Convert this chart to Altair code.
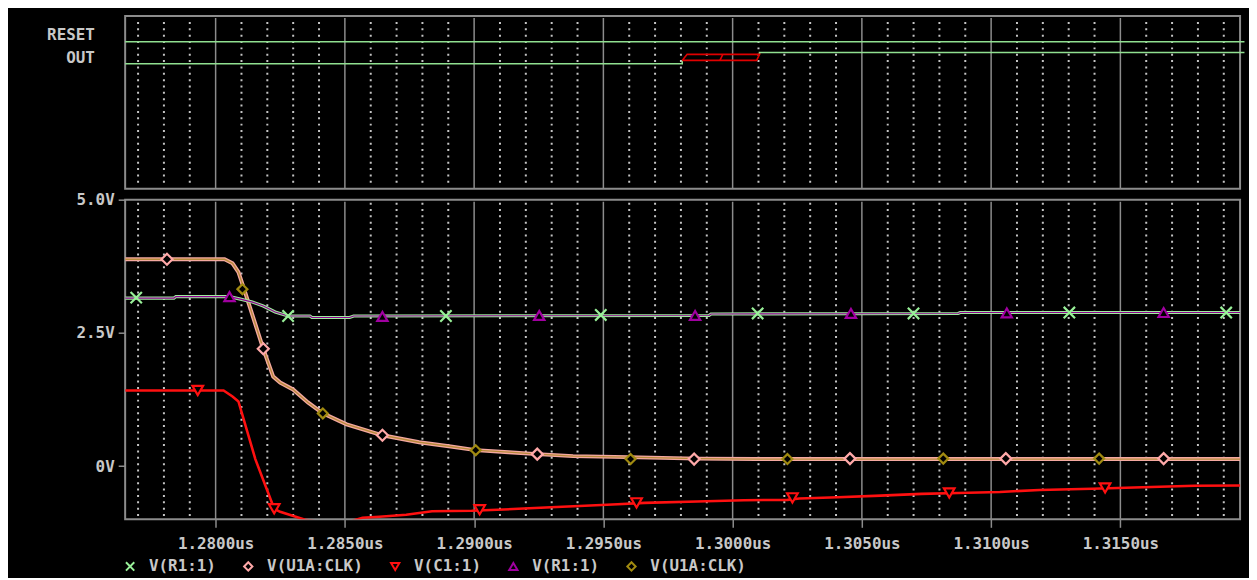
import altair as alt
import pandas as pd

FONT = "DejaVu Sans Mono"
TXT = "#c8c8c8"
GRID = "#c4c4c4"
FRAME = "#8c8c8c"

# ---------------- axis / tick values ----------------
X_DOMAIN = [1.2765, 1.31963]
major_ticks = [1.280, 1.285, 1.290, 1.295, 1.300, 1.305, 1.310, 1.315]
minor_ticks = [1.277, 1.278, 1.279, 1.281, 1.282, 1.283, 1.284, 1.286, 1.287, 1.288, 1.289,
               1.291, 1.292, 1.293, 1.294, 1.296, 1.297, 1.298, 1.299, 1.301, 1.302, 1.303,
               1.304, 1.306, 1.307, 1.308, 1.309, 1.311, 1.312, 1.313, 1.314, 1.316, 1.317,
               1.318, 1.319]
volt_ticks = [0.0, 2.5, 5.0]

# ---------------- digital panel ----------------
row_names = ["RESET", "OUT"]
row_label_levels = [0.891, 0.759]
reset_t = [1.2765, 1.3198]
reset_lvl = [0.851, 0.851]
out_lo_t = [1.2765, 1.29805, 1.29805]
out_lo_lvl = [0.724, 0.724, 0.743]
out_hi_t = [1.30104, 1.30104, 1.3198]
out_hi_lvl = [0.778, 0.789, 0.789]
xstate_t = [1.29805, 1.29824, 1.30104, 1.30093, 1.29805]
xstate_lvl = [0.743, 0.778, 0.778, 0.743, 0.743]
xmid_t = [1.29951, 1.29962]
xmid_lvl = [0.743, 0.778]

# ---------------- analog traces ----------------
r1_t = [1.276505, 1.278387, 1.278464, 1.280538, 1.280960, 1.281421, 1.281843, 1.282304,
        1.282803, 1.283648, 1.283725, 1.285184, 1.285338, 1.299086, 1.299163, 1.308725,
        1.308802, 1.319823]
r1_v = [3.153, 3.153, 3.181, 3.181, 3.134, 3.078, 3.004, 2.892,
        2.817, 2.817, 2.789, 2.789, 2.817, 2.826, 2.854, 2.864,
        2.882, 2.882]

clk_t = [1.276505, 1.280346, 1.280653, 1.280883, 1.281114, 1.281843, 1.282227, 1.282496,
         1.282995, 1.283571, 1.284147, 1.285069, 1.286452, 1.287872, 1.289024, 1.290061,
         1.291329, 1.292442, 1.293825, 1.295937, 1.298625, 1.300929, 1.319823]
clk_v = [3.881, 3.881, 3.806, 3.638, 3.302, 2.201, 1.679, 1.567,
         1.437, 1.194, 0.989, 0.784, 0.578, 0.448, 0.373, 0.299,
         0.261, 0.224, 0.187, 0.168, 0.140, 0.131, 0.131]

c1_t = [1.276505, 1.280307, 1.280653, 1.280883, 1.281536, 1.282266, 1.282496, 1.283341,
        1.283456, 1.284224, 1.285184, 1.285299, 1.285683, 1.286336, 1.287373, 1.288372,
        1.289908, 1.291713, 1.292980, 1.294286, 1.295553, 1.296590, 1.298625, 1.300430,
        1.302120, 1.302581, 1.304078, 1.305729, 1.307304, 1.308725, 1.310338, 1.311874,
        1.313909, 1.315868, 1.317864, 1.319823]
c1_v = [1.418, 1.418, 1.306, 1.213, 0.131, -0.802, -0.858, -0.989,
        -1.007, -1.063, -1.035, -1.026, -0.970, -0.951, -0.914, -0.849,
        -0.840, -0.802, -0.774, -0.746, -0.718, -0.690, -0.666, -0.640,
        -0.634, -0.610, -0.584, -0.554, -0.522, -0.504, -0.485, -0.448,
        -0.424, -0.397, -0.368, -0.364]

# ---------------- trace markers ----------------
mk_r1x_t = [1.276928, 1.282803, 1.288909, 1.294900, 1.300967, 1.306997, 1.313026, 1.319093]
mk_r1x_v = [3.162, 2.817, 2.817, 2.836, 2.864, 2.864, 2.882, 2.882]
mk_clkp_t = [1.278118, 1.281843, 1.286452, 1.292442, 1.298510, 1.304539, 1.310568, 1.316674]
mk_clkp_v = [3.881, 2.201, 0.578, 0.224, 0.131, 0.140, 0.140, 0.140]
mk_c1_t = [1.279309, 1.282266, 1.290215, 1.296282, 1.302312, 1.308379, 1.314408]
mk_c1_v = [1.418, -0.802, -0.821, -0.690, -0.597, -0.504, -0.410]
mk_r1t_t = [1.280538, 1.286452, 1.292519, 1.298548, 1.304577, 1.310606, 1.316674]
mk_r1t_v = [3.181, 2.808, 2.826, 2.826, 2.864, 2.873, 2.882]
mk_clko_t = [1.281037, 1.284147, 1.290061, 1.296052, 1.302120, 1.308149, 1.314178]
mk_clko_v = [3.321, 0.989, 0.299, 0.131, 0.131, 0.140, 0.140]

series_names = ["V(R1:1)", "V(U1A:CLK)", "V(C1:1)", "V(R1:1)", "V(U1A:CLK)"]
series_colors = ["#98f098", "#ffa8a8", "#ff1010", "#a000a0", "#a08a10"]
series_shapes = ["M-1,-1L1,1M-1,1L1,-1", "diamond", "triangle-down", "triangle-up", "diamond"]
series_sizes = [130, 100, 100, 60, 60]
keys = [f"{i}|{n}" for i, n in enumerate(series_names)]

# ---------------- frames ----------------
xs_top = alt.Scale(domain=X_DOMAIN, nice=False, zero=False)
xs_bot = alt.Scale(domain=X_DOMAIN, nice=False, zero=False)
ys_top = alt.Scale(domain=[0, 1], nice=False, zero=False)
ys_bot = alt.Scale(domain=[-1, 5], nice=False, zero=False)

minor_df = pd.DataFrame({"t": minor_ticks})
major_df = pd.DataFrame({"t": major_ticks})

dig_green = pd.concat([
    pd.DataFrame({"t": reset_t, "lvl": reset_lvl, "seg": "reset", "o": range(len(reset_t))}),
    pd.DataFrame({"t": out_lo_t, "lvl": out_lo_lvl, "seg": "lo", "o": range(len(out_lo_t))}),
    pd.DataFrame({"t": out_hi_t, "lvl": out_hi_lvl, "seg": "hi", "o": range(len(out_hi_t))}),
])
dig_red = pd.concat([
    pd.DataFrame({"t": xstate_t, "lvl": xstate_lvl, "seg": "box", "o": range(len(xstate_t))}),
    pd.DataFrame({"t": xmid_t, "lvl": xmid_lvl, "seg": "mid", "o": range(len(xmid_t))}),
])

top_y_axis = alt.Axis(values=row_label_levels,
                      labelExpr="datum.value > 0.8 ? 'RESET' : 'OUT'",
                      ticks=False, domain=False, grid=False, title=None,
                      labelPadding=31, labelFontSize=16)

top_minor = alt.Chart(minor_df).mark_rule(color=GRID, strokeWidth=2, strokeDash=[2, 4.4]).encode(
    x=alt.X("t:Q", scale=xs_top, axis=None), y=alt.value(6), y2=alt.value(172))
top_major = alt.Chart(major_df).mark_rule(color=FRAME, strokeWidth=1.5).encode(
    x=alt.X("t:Q", scale=xs_top, axis=None), y=alt.value(2), y2=alt.value(174))
top_green = alt.Chart(dig_green).mark_line(color="#90e090", strokeWidth=1.6, interpolate="linear").encode(
    x=alt.X("t:Q", scale=xs_top, axis=None),
    y=alt.Y("lvl:Q", scale=ys_top, axis=top_y_axis),
    detail="seg:N", order="o:Q")
top_red = alt.Chart(dig_red).mark_line(color="#e00000", strokeWidth=1.6).encode(
    x=alt.X("t:Q", scale=xs_top, axis=None),
    y=alt.Y("lvl:Q", scale=ys_top, axis=top_y_axis),
    detail="seg:N", order="o:Q")
anchor = alt.Chart(pd.DataFrame({"a": [0]})).mark_rule(color="#000000", strokeWidth=1).encode(
    x=alt.value(-116), x2=alt.value(-114), y=alt.value(1))

top = alt.layer(top_minor, top_major, top_green, top_red, anchor).properties(width=1123, height=174)

# ---------------- bottom analog panel ----------------
x_axis = alt.Axis(values=major_ticks, labelExpr="format(datum.value, '.4f') + 'us'",
                  tickSize=8, tickWidth=1.5, tickColor=FRAME, labelPadding=8,
                  domain=False, grid=False, title=None, labelFlush=False, labelOverlap=False)
y_axis = alt.Axis(values=volt_ticks,
                  labelExpr="datum.value == 0 ? '0V' : format(datum.value, '.1f') + 'V'",
                  tickSize=7, tickWidth=1.5, tickColor=FRAME, labelPadding=4,
                  domain=False, grid=False, title=None)
XB = alt.X("t:Q", scale=xs_bot, axis=x_axis)
YB = alt.Y("v:Q", scale=ys_bot, axis=y_axis)

bot_minor = alt.Chart(minor_df).mark_rule(color=GRID, strokeWidth=2, strokeDash=[2, 4.4]).encode(
    x=XB, y=alt.value(3), y2=alt.value(319))
bot_major = alt.Chart(major_df).mark_rule(color=FRAME, strokeWidth=1.5).encode(
    x=XB, y=alt.value(2), y2=alt.value(322))

r1_df = pd.DataFrame({"t": r1_t, "v": r1_v})
clk_df = pd.DataFrame({"t": clk_t, "v": clk_v})
c1_df = pd.DataFrame({"t": c1_t, "v": c1_v})

def trace(df, color, width):
    return alt.Chart(df).mark_line(color=color, strokeWidth=width, clip=True).encode(x=XB, y=YB)

l_c1 = trace(c1_df, "#ff1010", 2.6)
l_clk_p = trace(clk_df, "#f4a8a0", 4)
l_clk_o = trace(clk_df, "#b88a3a", 1.4)
l_r1_g = trace(r1_df, "#a0eca0", 3.2)
l_r1_p = trace(r1_df, "#900090", 1.2)

mk_list = [(mk_r1x_t, mk_r1x_v), (mk_clkp_t, mk_clkp_v), (mk_c1_t, mk_c1_v),
           (mk_r1t_t, mk_r1t_v), (mk_clko_t, mk_clko_v)]
mk_df = pd.concat([pd.DataFrame({"t": t, "v": v, "key": k}) for (t, v), k in zip(mk_list, keys)])

legend = alt.Legend(orient="none", legendX=-3, legendY=361, direction="horizontal", columns=5,
                    columnPadding=23, labelOffset=11, symbolSize=70, symbolStrokeWidth=2,
                    labelFont=FONT, labelFontSize=16, labelFontWeight="bold", labelColor=TXT,
                    labelExpr="split(datum.label, '|')[1]", title=None, padding=0,
                    symbolFillColor="#000000")

markers = alt.Chart(mk_df).mark_point(filled=False, strokeWidth=2.2, opacity=1, clip=True).encode(
    x=XB, y=YB,
    stroke=alt.Stroke("key:N", scale=alt.Scale(domain=keys, range=series_colors), legend=legend),
    shape=alt.Shape("key:N", scale=alt.Scale(domain=keys, range=series_shapes), legend=legend),
    size=alt.Size("key:N", scale=alt.Scale(domain=keys, range=series_sizes), legend=None),
    fill=alt.value("#000000"))

bottom = alt.layer(bot_minor, bot_major, l_c1, l_clk_p, l_clk_o, l_r1_g, l_r1_p, markers).properties(
    width=1123, height=322)

chart = alt.vconcat(top, bottom, spacing=11, bounds="flush").resolve_scale(
    x="independent", y="independent").resolve_legend(stroke="independent", shape="independent").properties(
    padding={"left": 0, "top": 5, "right": 0, "bottom": 0}, background="#000000"
).configure_view(stroke=FRAME, strokeWidth=2).configure_axis(
    labelFont=FONT, labelFontSize=16, labelFontWeight="bold", labelColor=TXT)

chart.save("out.html", embed_options={"renderer": "svg", "actions": False})
